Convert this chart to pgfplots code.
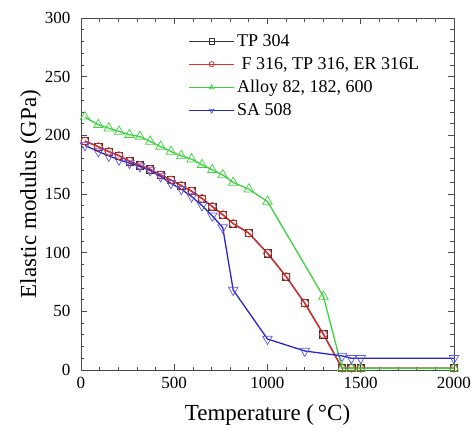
\documentclass[border=0pt]{standalone}
\usepackage{fontspec}
\setmainfont{Liberation Serif}
\usepackage{pgfplots}
\pgfplotsset{compat=1.18}
\definecolor{myred}{RGB}{228,45,45}
\definecolor{mygreen}{RGB}{60,210,60}
\definecolor{myblue}{RGB}{40,40,200}
\definecolor{myblueM}{RGB}{90,90,230}
\begin{document}
\begin{tikzpicture}
\begin{axis}[
 scale only axis, width=373pt, height=352pt,
 xmin=0, xmax=2000, ymin=0, ymax=300,
 xtick={0,500,1000,1500,2000}, ytick={0,50,100,150,200,250,300},
 xticklabels={0,500,1000,1500,2000},
 yticklabels={0,50,100,150,200,250,300},
 minor x tick num=4, minor y tick num=4,
 tick align=inside, major tick length=6pt, minor tick length=3.5pt,
 axis line style={black!70, line width=0.8pt}, tick style={black!70, line width=0.7pt},
 tick label style={font=\fontsize{17}{20}\selectfont},
 xticklabel style={yshift=-4pt},
 yticklabel style={xshift=-7pt},
 label style={font=\fontsize{23}{27}\selectfont},
 xlabel={Temperature (\,°C)}, ylabel={Elastic modulus (GPa)},
 ylabel style={yshift=-3pt},
 xlabel style={yshift=-9pt},
 legend style={at={(0.279,0.965)}, anchor=north west, draw=none, fill=none,
   font=\fontsize{18}{21}\selectfont, row sep=5.5pt},
 legend cell align=left,
 legend image code/.code={\draw[mark repeat=2,mark phase=2,mark size=2.6pt] plot coordinates {(0cm,0cm)(0.8cm,0cm)(1.6cm,0cm)};},
 every axis plot/.append style={line width=1.3pt},
]
\addplot[black!80, mark=square, mark size=3.6pt, mark options={solid, line width=0.7pt, fill=white}] coordinates {
(21,195.1)(93,190.3)(149,186.2)(204,182.7)(260,177.9)(316,174.4)(371,171.0)(427,166.2)(482,162.0)(538,157.2)(593,152.4)(649,146.2)(704,139.3)(760,132.4)(816,124.8)(900,116.6)(1000,99.5)(1100,79.6)(1200,56.9)(1300,30.4)(1400,1.5)(1450,1.5)(1500,1.5)(2000,1.5)};
\addlegendentry{TP 304}
\addplot[myred, mark=o, mark size=3.9pt, mark options={solid, line width=0.8pt, fill=none}] coordinates {
(21,195.1)(93,190.3)(149,186.2)(204,182.7)(260,177.9)(316,174.4)(371,171.0)(427,166.2)(482,162.0)(538,157.2)(593,152.4)(649,146.2)(704,139.3)(760,132.4)(816,124.8)(900,116.6)(1000,99.5)(1100,79.6)(1200,56.9)(1300,30.4)(1400,1.5)(1450,1.5)(1500,1.5)(2000,1.5)};
\addlegendentry{\ F 316, TP 316, ER 316L}
\addplot[mygreen, mark=triangle, mark size=5.5pt, mark options={solid, line width=0.7pt, fill=white}] coordinates {
(21,215.5)(93,209)(149,206.1)(204,203.3)(260,200.5)(316,199)(371,194.8)(427,190.5)(482,186.2)(538,182.5)(593,179.7)(649,174.9)(704,170.6)(760,166.3)(816,159.8)(900,154.1)(1000,143.6)(1300,62.6)(1400,1.5)(1450,1.5)(1500,1.5)(2000,1.5)};
\addlegendentry{Alloy 82, 182, 600}
\addplot[myblue, mark=triangle, mark size=5.5pt, mark options={solid, rotate=180, line width=0.7pt, fill=white, draw=myblueM}] coordinates {
(21,191.4)(93,186.2)(149,182.5)(204,179.1)(260,176.3)(316,173.4)(371,170)(427,164.9)(482,159.2)(538,154.1)(593,147.8)(649,140.2)(704,131.4)(760,121.4)(816,68.2)(1000,26.4)(1200,16.2)(1400,12)(1450,10)(1500,10)(2000,10)};
\addlegendentry{SA 508}
\end{axis}
\path (current axis.south west) ++(-81pt,-56pt) rectangle ++(475pt,426pt);
\end{tikzpicture}
\end{document}
